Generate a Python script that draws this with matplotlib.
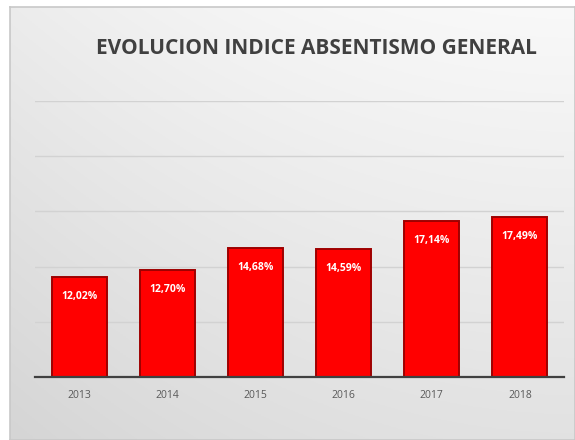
import matplotlib
matplotlib.use("Agg")

import matplotlib.pyplot as plt
import numpy as np


years = ["2013", "2014", "2015", "2016", "2017", "2018"]
indice = [12.02, 12.70, 14.68, 14.59, 17.14, 17.49]
title = "EVOLUCION INDICE ABSENTISMO GENERAL"

plt.rcParams["font.family"] = ["Open Sans", "DejaVu Sans"]

fig = plt.figure(figsize=(5.75, 4.4), dpi=100)
fig.patch.set_facecolor("white")

# panel de fondo con degradado gris (claro arriba, más oscuro abajo/izquierda)
bg = fig.add_axes([10 / 575, 0, 1 - 10 / 575, 1 - 7 / 440], zorder=0)
yy, xx = np.mgrid[0:1:200j, 0:1:200j]
grad = 0.975 - 0.09 * yy - 0.05 * (1 - xx) ** 2
grad = np.clip(grad, 0.80, 1.0)
bg.imshow(np.dstack([grad, grad, grad]), aspect="auto", origin="upper",
          extent=[0, 1, 0, 1])
bg.set_xticks([])
bg.set_yticks([])
for s in bg.spines.values():
    s.set_color("#c8c8c8")
    s.set_linewidth(1.2)

ax = fig.add_axes([35 / 575, 1 - 377 / 440, (564 - 35) / 575, (377 - 101) / 440],
                  zorder=1)
ax.patch.set_alpha(0)

x = np.arange(len(years))
bars = ax.bar(x, indice, bottom=0, width=0.625, color="#ff0000",
              edgecolor="#9e0000", linewidth=1.4, zorder=3)

ax.set_xlim(-0.5, len(years) - 0.5)
ax.set_ylim(3, 28)
ax.set_yticks(np.arange(3, 29, 5))
ax.yaxis.grid(True, color="#d2d2d2", linewidth=1.0, zorder=0)
ax.tick_params(axis="y", left=False, labelleft=False)
ax.tick_params(axis="x", length=0, pad=9, labelsize=7.5, labelcolor="#595959")
ax.set_xticks(x)
ax.set_xticklabels(years)

for side in ["top", "right", "left"]:
    ax.spines[side].set_visible(False)
ax.spines["bottom"].set_color("#404040")
ax.spines["bottom"].set_linewidth(1.6)
ax.spines["bottom"].set_zorder(4)

for xi, v in zip(x, indice):
    ax.annotate(f"{v:.2f}%".replace(".", ","), (xi, v), xytext=(0, -14),
                textcoords="offset points", ha="center", va="center",
                color="white", fontsize=7.5, fontweight="bold", zorder=5)

fig.text(316 / 575, 1 - 48 / 440, title, ha="center", va="center",
         fontsize=15, fontweight="bold", color="#404040")

fig.savefig("out.png", dpi=100)
plt.close(fig)
